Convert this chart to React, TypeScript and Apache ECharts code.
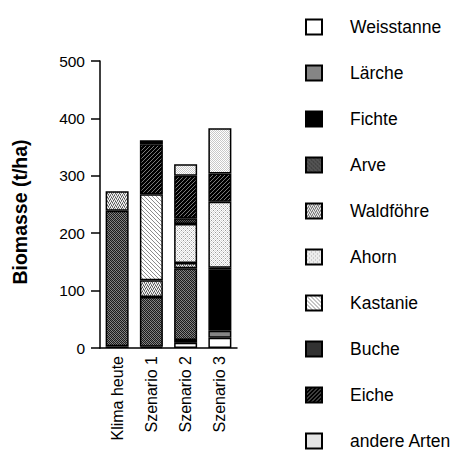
import React, { useEffect, useRef } from "react";
import * as echarts from "echarts";

const categories = ["Klima heute", "Szenario 1", "Szenario 2", "Szenario 3"];
const speciesNames = ["Weisstanne", "Lärche", "Fichte", "Arve", "Waldföhre", "Ahorn", "Kastanie", "Buche", "Eiche", "andere Arten"];
const weisstanne = [0, 0, 9, 18];
const laerche = [3, 0, 0, 12];
const fichte = [0, 2, 5, 107];
const arve = [236, 87, 125, 0];
const waldfoehre = [34, 29, 9, 3];
const ahorn = [0, 0, 68, 115];
const kastanie = [0, 150, 0, 0];
const buche = [0, 0, 10, 0];
const eiche = [0, 87, 74, 49];
const andereArten = [0, 0, 20, 79];
const fichteTop = [0, 7, 0, 0];
const yTicks = [0, 100, 200, 300, 400, 500];
const yAxisTitle = "Biomasse (t/ha)";

function pat(size: number, draw: (ctx: CanvasRenderingContext2D, s: number) => void) {
  const c = document.createElement("canvas");
  c.width = size;
  c.height = size;
  const ctx = c.getContext("2d") as CanvasRenderingContext2D;
  draw(ctx, size);
  return { image: c, repeat: "repeat" };
}

function checker(a: string, b: string) {
  return pat(2, (ctx) => {
    ctx.fillStyle = a;
    ctx.fillRect(0, 0, 2, 2);
    ctx.fillStyle = b;
    ctx.fillRect(0, 0, 1, 1);
    ctx.fillRect(1, 1, 1, 1);
  });
}

function diag(bg: string, fg: string, dir: number) {
  return pat(4, (ctx) => {
    ctx.fillStyle = bg;
    ctx.fillRect(0, 0, 4, 4);
    ctx.fillStyle = fg;
    for (let i = 0; i < 4; i++) {
      const x = dir > 0 ? (3 - i) : i;
      ctx.fillRect(x, i, 1, 1);
    }
  });
}

function dither(colors: string[][]) {
  const n = colors.length;
  return pat(n, (ctx) => {
    for (let y = 0; y < n; y++) for (let x = 0; x < n; x++) {
      ctx.fillStyle = colors[y][x];
      ctx.fillRect(x, y, 1, 1);
    }
  });
}

export default function App() {
  const ref = useRef<HTMLDivElement>(null);
  useEffect(() => {
    document.body.style.margin = "0";
    const chart = echarts.init(ref.current as HTMLDivElement, null, { renderer: "svg" });
    const W = "#ffffff", L = "#d8d8d8", M = "#9a9a9a", D = "#555555";
    const fills: any[] = [
      "#ffffff",
      "#858585",
      "#000000",
      dither([
        ["#1c1c1c", "#8a8a8a", "#1c1c1c", "#6a6a6a"],
        ["#7a7a7a", "#1c1c1c", "#8a8a8a", "#1c1c1c"],
        ["#1c1c1c", "#6a6a6a", "#1c1c1c", "#8a8a8a"],
        ["#8a8a8a", "#1c1c1c", "#7a7a7a", "#1c1c1c"],
      ]),
      dither([
        [W, D, L, M],
        [L, M, W, D],
        [D, W, M, L],
        [M, L, D, W],
      ]),
      dither([
        [W, L, W, M],
        [L, W, L, W],
        [W, M, W, L],
        [L, W, L, W],
      ]),
      diag("#ffffff", "#8c8c8c", -1),
      checker("#0a0a0a", "#5a5a5a"),
      diag("#000000", "#7a7a7a", 1),
      checker("#ffffff", "#c8c8c8"),
    ];
    const values = [weisstanne, laerche, fichte, arve, waldfoehre, ahorn, kastanie, buche, eiche, andereArten];
    const series: any[] = speciesNames.map((name, i) => ({
      name,
      type: "bar",
      stack: "total",
      barWidth: 23,
      data: values[i].map((v) => (v === 0 ? null : v)),
      itemStyle: { color: fills[i], borderColor: "#000", borderWidth: 1.5 },
    }));
    series.push({
      name: "Fichte",
      type: "bar",
      stack: "total",
      barWidth: 23,
      data: fichteTop.map((v) => (v === 0 ? null : v)),
      itemStyle: { color: "#000000", borderColor: "#000", borderWidth: 1.5 },
    });
    chart.setOption({
      animation: false,
      textStyle: { fontFamily: "Liberation Sans", color: "#000" },
      grid: { left: 100, width: 137, top: 61, bottom: 105 },
      legend: {
        orient: "vertical",
        left: 305,
        top: 18,
        height: 440,
        padding: 0,
        data: speciesNames,
        icon: "rect",
        itemWidth: 16,
        itemHeight: 15,
        itemGap: 28,
        selectedMode: false,
        textStyle: { fontSize: 17.5, lineHeight: 18, color: "#000", padding: [0, 0, 0, 23], fontFamily: "Liberation Sans" },
      },
      graphic: [
        {
          type: "text",
          x: 20,
          y: 212,
          rotation: Math.PI / 2,
          style: {
            text: yAxisTitle,
            fontSize: 19.5,
            fontWeight: "bold",
            fontFamily: "Liberation Sans",
            fill: "#000",
            align: "center",
            verticalAlign: "middle",
          },
        },
      ],
      xAxis: {
        type: "category",
        data: categories,
        axisLine: { lineStyle: { color: "#000", width: 1.5 } },
        axisTick: { show: false },
        axisLabel: { rotate: 90, fontSize: 16, color: "#000", margin: 8 },
      },
      yAxis: {
        type: "value",
        min: 0,
        max: 500,
        interval: 100,
        axisLine: { show: true, lineStyle: { color: "#000", width: 1.5 } },
        axisTick: { show: true, length: 9, lineStyle: { color: "#000", width: 1.5 } },
        splitLine: { show: false },
        axisLabel: {
          fontSize: 15.5,
          color: "#000",
          margin: 15,
          formatter: (v: number) => (yTicks.includes(v) ? String(v) : ""),
        },
      },
      series,
    });
    return () => chart.dispose();
  }, []);
  return <div ref={ref} style={{ width: 457, height: 453 }} />;
}
